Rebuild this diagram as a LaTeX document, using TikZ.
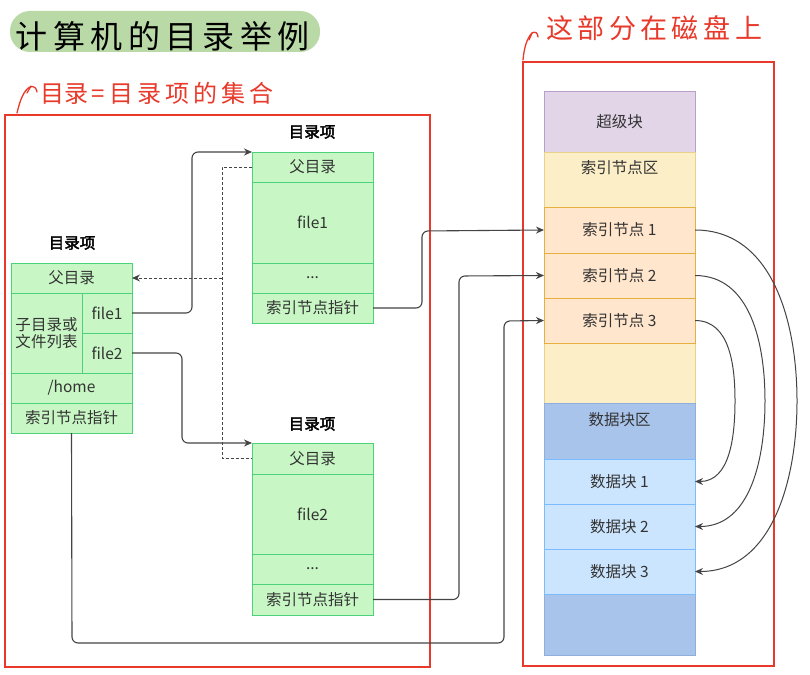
\documentclass[tikz,border=0pt]{standalone}
\usepackage{fontspec}
\setmainfont{Noto Sans CJK SC}[AutoFakeBold=2.5]
\usetikzlibrary{arrows.meta}
\definecolor{cellfill}{HTML}{C8F7C5}
\definecolor{celldraw}{HTML}{4CD37A}
\definecolor{txt}{HTML}{333333}
\definecolor{hand}{HTML}{E8392A}
\definecolor{titlefill}{HTML}{B9D9A6}
\definecolor{sbfill}{HTML}{E1D5E7}
\definecolor{sbdraw}{HTML}{B7A0C9}
\definecolor{yfill}{HTML}{FCEFC8}
\definecolor{ydraw}{HTML}{E8D28A}
\definecolor{ofill}{HTML}{FFE6CC}
\definecolor{odraw}{HTML}{E6B040}
\definecolor{dbfill}{HTML}{A9C4EB}
\definecolor{dbdraw}{HTML}{8FAEDB}
\definecolor{dfill}{HTML}{CCE5FF}
\definecolor{ddraw}{HTML}{7DBBFF}
\definecolor{conncol}{HTML}{444444}
\begin{document}
\begin{tikzpicture}[x=1pt,y=-1pt,
  every node/.style={inner sep=0pt,outer sep=0pt,text=txt},
  cell/.style={draw=celldraw,fill=cellfill,line width=1pt,anchor=north west,minimum width=121pt,font=\fontsize{15.5}{18}\selectfont},
  blk/.style={line width=1pt,anchor=north west,minimum width=151pt,font=\fontsize{15.5}{18}\selectfont},
  lbl/.style={font=\fontsize{15.5}{18}\selectfont\bfseries,text=black},
  conn/.style={draw=conncol,line width=1.1pt,rounded corners=6pt},
  tip/.style={-{Stealth[length=8pt,width=7pt]}},
  dconn/.style={draw=conncol,line width=1pt,dash pattern=on 3pt off 2pt},
  redbox/.style={draw=hand,line width=1.4pt},
  handtxt/.style={text=hand}
]
\useasboundingbox (0,0) rectangle (810,674);
\fill[white] (0,0) rectangle (810,674);

% title
\fill[titlefill,rounded corners=20pt] (10,11) rectangle (320,52);
\node[anchor=west,text=black,font=\fontsize{32}{36}\selectfont] (title) at (16,36) {计\,算\,机\,的\,目\,录\,举\,例};

% annotations
\node[anchor=west,handtxt,font=\fontsize{24}{28}\selectfont] (ann1) at (40,93) {目录\,=\,目\,录\,项\,的\,集\,合};
\draw[hand,line width=1.3pt,line cap=round] (17,113) .. controls (20,100) and (24,90) .. (30,87) .. controls (34,85) and (37,89) .. (37,92);
\draw[hand,line width=1.3pt,line cap=round] (31,86) -- (27,93);
\node[anchor=west,handtxt,font=\fontsize{27}{30}\selectfont] (ann2) at (546,28) {这\,部\,分\,在\,磁\,盘\,上};
\draw[hand,line width=1.3pt,line cap=round] (523,60) .. controls (524,48) and (527,38) .. (532,33) .. controls (535,31) and (538,33) .. (538,37);
\draw[hand,line width=1.3pt,line cap=round] (532,33) -- (529,40);

% red frames
\draw[redbox] (5,115) rectangle (430,667);
\draw[redbox] (523,62) rectangle (774,666);

% left directory entry
\node[lbl] (l0) at (72,243) {目录项};
\node[cell,minimum height=30pt] (lp) at (11,263) {父目录};
\node[cell,minimum width=71pt,minimum height=80pt,align=center] (lc) at (11,293) {子目录或\\[-1pt]文件列表};
\node[cell,minimum width=50pt,minimum height=40pt] (lf1) at (82,293) {file1};
\node[cell,minimum width=50pt,minimum height=40pt] (lf2) at (82,333) {file2};
\node[cell,minimum height=30pt] (lh) at (11,373) {/home};
\node[cell,minimum height=30pt] (li) at (11,403) {索引节点指针};

% top directory entry
\node[lbl] (t0) at (312,132) {目录项};
\node[cell,minimum height=30pt] (tp) at (252,152) {父目录};
\node[cell,minimum height=81pt] (tf) at (252,182) {file1};
\node[cell,minimum height=30pt] (td) at (252,263) {...};
\node[cell,minimum height=30pt] (ti) at (252,293) {索引节点指针};

% bottom directory entry
\node[lbl] (b0) at (312,424) {目录项};
\node[cell,minimum height=31pt] (bp) at (252,443) {父目录};
\node[cell,minimum height=80pt] (bf) at (252,474) {file2};
\node[cell,minimum height=30pt] (bd) at (252,554) {...};
\node[cell,minimum height=31pt] (bi) at (252,584) {索引节点指针};

% disk
\node[blk,draw=sbdraw,fill=sbfill,minimum height=60pt] (sb) at (544,92) {超级块};
\node[blk,draw=ydraw,fill=yfill,minimum height=251pt] (ia) at (544,152) {};
\node[font=\fontsize{15.5}{18}\selectfont] (ial) at (619.5,168) {索引节点区};
\node[blk,draw=odraw,fill=ofill,minimum height=46pt] (n1) at (544,207) {索引节点 1};
\node[blk,draw=odraw,fill=ofill,minimum height=45pt] (n2) at (544,253) {索引节点 2};
\node[blk,draw=odraw,fill=ofill,minimum height=45pt] (n3) at (544,298) {索引节点 3};
\node[blk,draw=dbdraw,fill=dbfill,minimum height=252pt] (da) at (544,403) {};
\node[font=\fontsize{15.5}{18}\selectfont] (dal) at (619.5,420) {数据块区};
\node[blk,draw=ddraw,fill=dfill,minimum height=45pt] (d1) at (544,459) {数据块 1};
\node[blk,draw=ddraw,fill=dfill,minimum height=45pt] (d2) at (544,504) {数据块 2};
\node[blk,draw=ddraw,fill=dfill,minimum height=45pt] (d3) at (544,549) {数据块 3};

% connectors: file pointers
\draw[conn,tip] (lf1.east) -| ([xshift=-60pt]tp.north west) -- (tp.north west);
\draw[conn,tip] (lf2.east) -| ([xshift=-70pt]bp.north west) -- (bp.north west);

% dashed parent links
\coordinate (dj) at ([xshift=-30pt]tp.west);
\draw[dconn] (tp.west) -- (dj) -- (dj |- bp.west) -- (bp.west);
\draw[dconn,tip] (dj |- lp.east) -- (lp.east);

% inode pointers
\draw[conn,tip] (ti.east) -- (422,308) -- (422,231) -- (n1.west);
\draw[conn,tip] (bi.east) -- (459,599.5) -- (459,276) -- (n2.west);
\draw[conn,tip] (li.south) -- (72,643) -- (504,643) -- (504,321) -- (n3.west);

% inode -> data block curves
\draw[draw=conncol,line width=1pt,tip] (n1.east) to[out=0,in=90] (797,401) to[out=-90,in=0] (d3.east);
\draw[draw=conncol,line width=1pt,tip] (n2.east) to[out=0,in=90] (765,401) to[out=-90,in=0] (d2.east);
\draw[draw=conncol,line width=1pt,tip] (n3.east) to[out=0,in=90] (735,401) to[out=-90,in=0] (d1.east);
\end{tikzpicture}
\end{document}
